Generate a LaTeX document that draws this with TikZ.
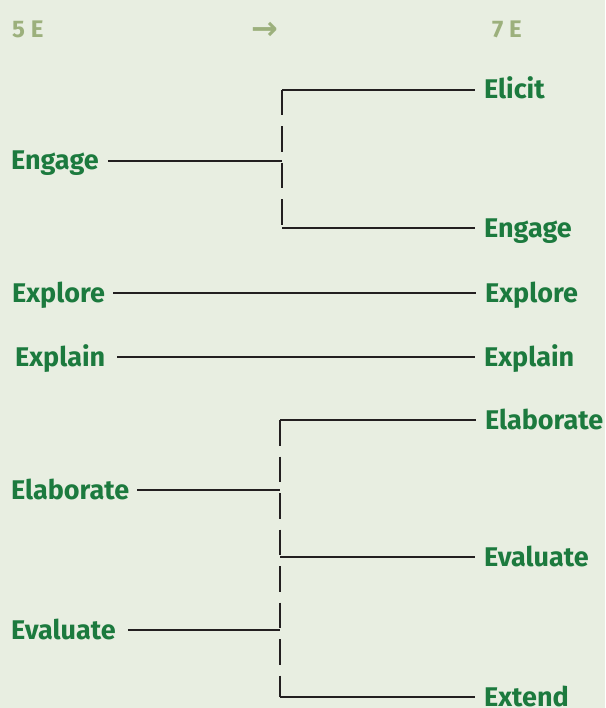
\documentclass[tikz,border=0pt]{standalone}
\usepackage{fontspec}
\setsansfont{Fira Sans}
\newfontfamily\arrowfont{DejaVu Sans}
\usepackage{tikz}
\usetikzlibrary{calc,positioning}
\definecolor{bgcol}{HTML}{E8EEE1}
\definecolor{egreen}{HTML}{1C7A3E}
\definecolor{hdrcol}{HTML}{9CB07C}
\definecolor{linecol}{HTML}{231F20}

\begin{document}
\begin{tikzpicture}[x=1pt,y=-1pt,
    lbl/.style={anchor=west,inner sep=0pt,text height=18pt,text depth=0pt,text=egreen,font=\sffamily\bfseries\fontsize{27}{29}\selectfont},
    hdr/.style={anchor=base west,inner sep=0pt,text=hdrcol,font=\sffamily\bfseries\fontsize{24}{26}\selectfont},
    link/.style={draw=linecol,line width=1.3pt},
    split/.style={link,dash pattern=on 25.5pt off 11pt}]
            \fill[bgcol] (0,0) rectangle (605,708);
            \useasboundingbox (0,0) rectangle (605,708);

            \node[hdr] (h5) at (12,38) {5 E};
            \node[hdr,anchor=center,font=\arrowfont\bfseries\fontsize{32}{34}\selectfont] (harr) at (265,31) {→};
            \node[hdr] (h7) at (492,38) {7 E};

            \node[lbl] (a1) at (11,161) {Engage};
            \node[lbl] (a2) at (12,293) {Explore};
            \node[lbl] (a3) at (15,357) {Explain};
            \node[lbl] (a4) at (11,490) {Elaborate};
            \node[lbl] (a5) at (11,630) {Evaluate};

            \node[lbl] (b1) at (484,90) {Elicit};
            \node[lbl] (b2) at (484,228) {Engage};
            \node[lbl] (b3) at (485,293) {Explore};
            \node[lbl] (b4) at (484,357) {Explain};
            \node[lbl] (b5) at (485,420) {Elaborate};
            \node[lbl] (b6) at (484,557) {Evaluate};
            \node[lbl] (b7) at (484,697) {Extend};

            \coordinate (f1) at (282,0);
            \coordinate (f2) at (280,0);

            \draw[link,shorten <=9pt] (a1.east) -- (a1.east -| f1);
            \draw[split] (b1.west -| f1) -- (b2.west -| f1);
            \draw[link,shorten >=9pt] (b1.west -| f1) -- (b1.west);
            \draw[link,shorten >=9pt] (b2.west -| f1) -- (b2.west);

            \draw[link,shorten <=8pt,shorten >=9pt] (a2) -- (b3);
            \draw[link,shorten <=12pt,shorten >=9pt] (a3) -- (b4);

            \draw[link,shorten <=8pt] (a4.east) -- (a4.east -| f2);
            \draw[link,shorten <=12pt] (a5.east) -- (a5.east -| f2);
            \draw[split] (b5.west -| f2) -- (b7.west -| f2);
            \draw[link,shorten >=9pt] (b5.west -| f2) -- (b5.west);
            \draw[link,shorten >=9pt] (b6.west -| f2) -- (b6.west);
            \draw[link,shorten >=9pt] (b7.west -| f2) -- (b7.west);
          \end{tikzpicture}
\end{document}
